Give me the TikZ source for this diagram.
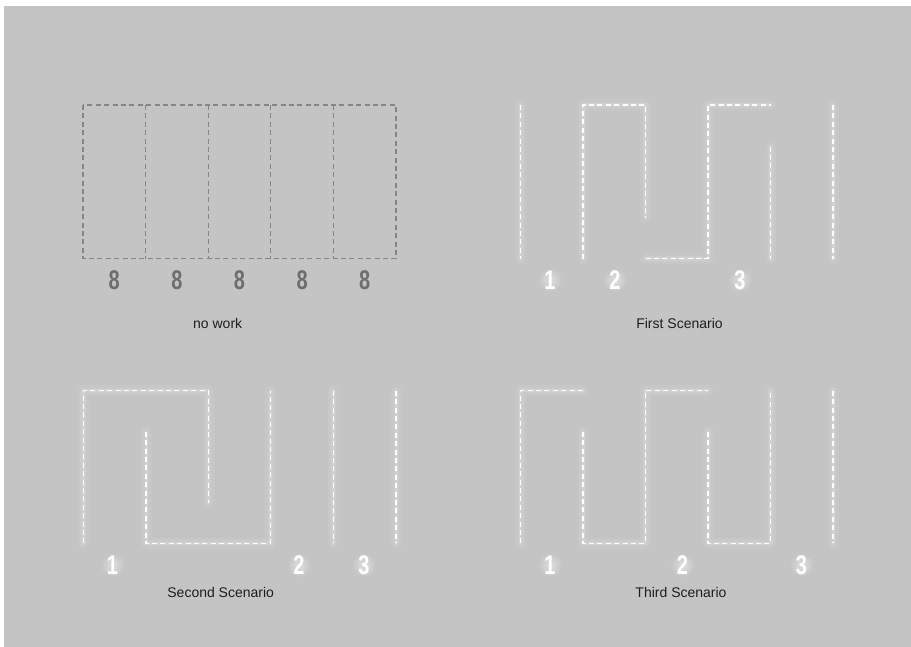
\documentclass[tikz,border=0pt]{standalone}
\usepackage{graphicx}
\usepackage{fontspec}
\setmainfont{Liberation Sans}
\usepackage{xcolor}
\definecolor{panelgray}{HTML}{C4C4C4}
\definecolor{gridgray}{HTML}{858585}
\definecolor{digitgray}{HTML}{6E6E6E}
\definecolor{titleink}{HTML}{1E1E1E}

\newcommand{\slimdigit}[1]{\scalebox{0.74}[1]{\bfseries #1}}

\begin{document}
\begin{tikzpicture}[
  x=1pt,
  y=-1pt,
  gridline/.style={gridgray, line width=1.2pt, dash pattern=on 5pt off 3.4pt},
  glowline/.style={white, line width=1.5pt, dash pattern=on 5pt off 3.4pt,
    preaction={draw=white, solid, line width=11pt, opacity=0.05, line cap=round, line join=round},
    preaction={draw=white, solid, line width=6pt, opacity=0.08, line cap=round, line join=round},
    preaction={draw=white, solid, line width=3pt, opacity=0.12, line cap=round, line join=round}},
  countlabel/.style={digitgray, font=\fontsize{27}{27}\selectfont},
  lamplabel/.style={white, font=\fontsize{27}{27}\selectfont},
  title/.style={titleink, font=\fontsize{14}{15}\selectfont}
]
  \useasboundingbox (0,0) rectangle (911,647);
  \fill[white] (0,0) rectangle (911,647);
  \fill[panelgray] (4,6) rectangle (911,647);

  % no work
  \draw[gridline] (83,105) rectangle (396,258.7);
  \foreach \gx in {145.6,208.2,270.8,333.4}
    \draw[gridline] (\gx,105) -- (\gx,258.7);
  \foreach \gx [count=\k] in {114.3,176.9,239.5,302.1,364.7}
    \node[countlabel] (eight\k) at (\gx,280) {\slimdigit{8}};
  \node[title] (nowork) at (217.7,323) {no work};

  % glow behind lamp numbers
  \foreach \lx/\ly in {550/280,615/280,740/280,112.5/565,299/565,364/565,550/565,682.5/565,801.5/565}
    \shade[inner color=white!45!panelgray, outer color=panelgray] (\lx,\ly) circle (12);

  % first scenario
  \draw[glowline] (520.5,105) -- (520.5,258.7);
  \draw[glowline] (583,258.7) -- (583,105) -- (645.5,105) -- (645.5,217.7);
  \draw[glowline] (645.5,258.7) -- (708,258.7) -- (708,105) -- (770.5,105);
  \draw[glowline] (770.5,146.7) -- (770.5,258.7);
  \draw[glowline] (833,105) -- (833,258.7);
  \node[lamplabel] (firstone) at (550,280) {\slimdigit{1}};
  \node[lamplabel] (firsttwo) at (615,280) {\slimdigit{2}};
  \node[lamplabel] (firstthree) at (740,280) {\slimdigit{3}};
  \node[title] (firsttitle) at (679.5,323) {First Scenario};

  % second scenario
  \draw[glowline] (83.3,543.3) -- (83.3,390.7) -- (208.3,390.7) -- (208.3,502.7);
  \draw[glowline] (146,431.7) -- (146,543.3) -- (270.7,543.3) -- (270.7,390.7);
  \draw[glowline] (333.3,390.7) -- (333.3,543.3);
  \draw[glowline] (396,390.7) -- (396,543.3);
  \node[lamplabel] (secondone) at (112.5,565) {\slimdigit{1}};
  \node[lamplabel] (secondtwo) at (299,565) {\slimdigit{2}};
  \node[lamplabel] (secondthree) at (364,565) {\slimdigit{3}};
  \node[title] (secondtitle) at (220.7,592.7) {Second Scenario};

  % third scenario
  \draw[glowline] (520.5,543.3) -- (520.5,390.7) -- (583,390.7);
  \draw[glowline] (583,431.7) -- (583,543.3) -- (645.5,543.3) -- (645.5,390.7) -- (708,390.7);
  \draw[glowline] (708,431.7) -- (708,543.3) -- (770.5,543.3) -- (770.5,390.7);
  \draw[glowline] (833,390.7) -- (833,543.3);
  \node[lamplabel] (thirdone) at (550,565) {\slimdigit{1}};
  \node[lamplabel] (thirdtwo) at (682.5,565) {\slimdigit{2}};
  \node[lamplabel] (thirdthree) at (801.5,565) {\slimdigit{3}};
  \node[title] (thirdtitle) at (681,592.7) {Third Scenario};
\end{tikzpicture}
\end{document}
